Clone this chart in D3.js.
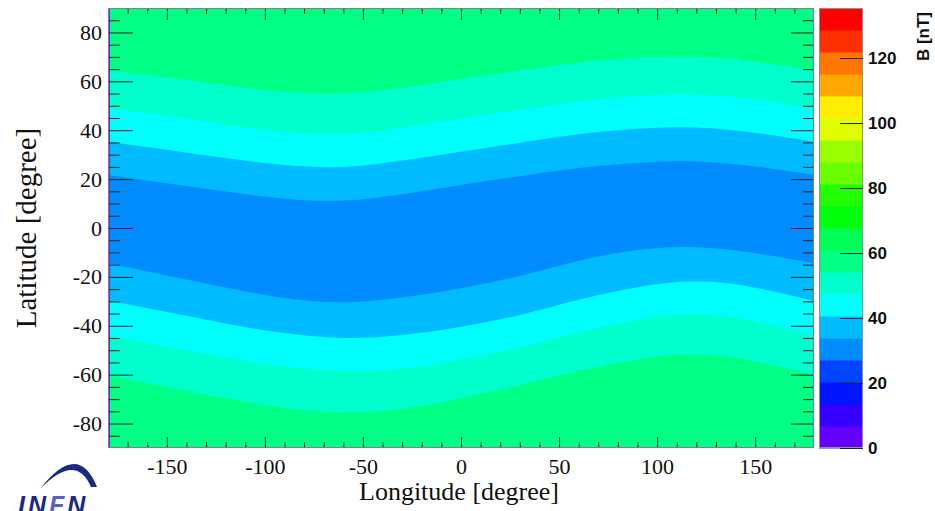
<!DOCTYPE html>
<html>
<head>
<meta charset="utf-8">
<script src="https://cdn.jsdelivr.net/npm/d3@7"></script>
<style>
  body { margin: 0; background: #fff; }
  svg { display: block; }
</style>
</head>
<body>
<div id="chart"></div>
<script>
// contour levels of B [nT] (20 equal bands, ROOT style)
const levels = [0, 6.77, 13.54, 20.31, 27.08, 33.85, 40.62, 47.39, 54.16, 60.93, 67.7,
                74.47, 81.24, 88.01, 94.78, 101.55, 108.32, 115.09, 121.86, 128.63, 135.4];
const paletteColors = ["#6300ff", "#3300ff", "#0014ff", "#0044ff", "#008bff", "#00bbff",
                       "#00fffc", "#00ffcc", "#00ff85", "#00ff55", "#00ff0e", "#22ff00",
                       "#69ff00", "#99ff00", "#e0ff00", "#ffee00", "#ffa700", "#ff7700",
                       "#ff3000", "#ff0000"];

// contour lines: latitude of each iso-B line per longitude
const lonGrid = [-180, -150, -120, -90, -60, -30, 0, 30, 60, 90, 120, 150, 180];
const lat54N = [64.5, 61.6, 58.4, 55.7, 55.0, 57.4, 61.0, 64.4, 67.6, 69.6, 70.1, 68.0, 64.5];
const lat47N = [49.0, 45.9, 42.3, 39.3, 38.4, 41.0, 44.8, 48.4, 51.8, 54.0, 54.6, 52.5, 49.0];
const lat41N = [35.3, 32.0, 28.6, 25.8, 25.0, 27.6, 31.2, 34.9, 38.4, 40.6, 41.1, 38.9, 35.3];
const lat34N = [21.7, 18.3, 14.9, 12.0, 11.2, 13.8, 17.6, 21.2, 24.5, 26.6, 27.2, 25.2, 21.7];
const lat34S = [-14.4, -19.4, -24.3, -28.6, -30.4, -28.4, -24.6, -19.6, -13.4, -9.0, -7.9, -10.3, -14.4];
const lat41S = [-29.8, -34.4, -39.1, -43.0, -45.0, -43.8, -40.4, -35.6, -29.4, -24.2, -21.8, -24.4, -29.8];
const lat47S = [-44.0, -48.6, -52.9, -56.6, -58.6, -57.6, -53.9, -48.8, -42.8, -37.6, -35.2, -38.2, -44.0];
const lat54S = [-60.2, -65.0, -69.8, -73.6, -75.4, -74.0, -69.6, -64.2, -58.6, -54.0, -51.8, -54.6, -60.2];

const lonMajor = [-150, -100, -50, 0, 50, 100, 150];
const latMajor = [-80, -60, -40, -20, 0, 20, 40, 60, 80];
const bTicks = [0, 20, 40, 60, 80, 100, 120];

const W = 935, H = 511;
const plot = {left: 108, right: 814, top: 8, bottom: 448};
const pal = {left: 819, right: 863};

const svg = d3.select("#chart").append("svg")
    .attr("width", W)
    .attr("height", H);

const x = d3.scaleLinear().domain([-180, 180]).range([plot.left, plot.right]);
const y = d3.scaleLinear().domain([-90, 90]).range([plot.bottom, plot.top]);
const z = d3.scaleLinear().domain([levels[0], levels[levels.length - 1]]).range([plot.bottom, plot.top]);

// outermost band (polar caps)
svg.append("rect")
    .attr("x", plot.left).attr("y", plot.top)
    .attr("width", plot.right - plot.left).attr("height", plot.bottom - plot.top)
    .attr("fill", paletteColors[8]);

const contours = [
    {lvl: 8, north: lat54N, south: lat54S},
    {lvl: 7, north: lat47N, south: lat47S},
    {lvl: 6, north: lat41N, south: lat41S},
    {lvl: 5, north: lat34N, south: lat34S}
];

const area = d3.area()
    .x((d, i) => x(lonGrid[i]))
    .curve(d3.curveNatural);

contours.forEach(c => {
    svg.append("path")
        .datum(lonGrid)
        .attr("d", area.y0((d, i) => y(c.south[i])).y1((d, i) => y(c.north[i])))
        .attr("fill", paletteColors[c.lvl - 1]);
});

// thin bluish edge at -180
svg.append("rect")
    .attr("x", plot.left).attr("y", plot.top)
    .attr("width", 2).attr("height", plot.bottom - plot.top)
    .attr("fill", "#4a3cf5");

// axes (ticks inside the frame)
function styleAxis(g) {
    g.select(".domain").remove();
    g.selectAll(".tick line").attr("stroke", "#222").attr("stroke-width", 1);
    g.selectAll("text")
        .style("font-family", "'Liberation Serif', 'Times New Roman', serif")
        .style("font-size", "22px")
        .attr("fill", "#111");
}

const lonMinor = d3.range(-170, 180, 10).filter(v => !lonMajor.includes(v));
const latMinor = d3.range(-85, 90, 5).filter(v => !latMajor.includes(v));

svg.append("g").attr("transform", `translate(0,${plot.bottom})`)
    .call(d3.axisBottom(x).tickValues(lonMinor).tickSize(-6).tickFormat(""))
    .call(styleAxis);
svg.append("g").attr("transform", `translate(0,${plot.bottom})`)
    .call(d3.axisBottom(x).tickValues(lonMajor).tickSize(-11).tickPadding(10))
    .call(styleAxis)
    .selectAll("text").text(d => String(d));
svg.append("g").attr("transform", `translate(0,${plot.top})`)
    .call(d3.axisTop(x).tickValues(lonMinor).tickSize(-6).tickFormat(""))
    .call(styleAxis);
svg.append("g").attr("transform", `translate(0,${plot.top})`)
    .call(d3.axisTop(x).tickValues(lonMajor).tickSize(-12).tickFormat(""))
    .call(styleAxis);

svg.append("g").attr("transform", `translate(${plot.left},0)`)
    .call(d3.axisLeft(y).tickValues(latMinor).tickSize(-12).tickFormat(""))
    .call(styleAxis);
svg.append("g").attr("transform", `translate(${plot.left},0)`)
    .call(d3.axisLeft(y).tickValues(latMajor).tickSize(-25).tickPadding(6))
    .call(styleAxis)
    .selectAll("text").text(d => String(d));
svg.append("g").attr("transform", `translate(${plot.right},0)`)
    .call(d3.axisRight(y).tickValues(latMinor).tickSize(-11).tickFormat(""))
    .call(styleAxis);
svg.append("g").attr("transform", `translate(${plot.right},0)`)
    .call(d3.axisRight(y).tickValues(latMajor).tickSize(-23).tickFormat(""))
    .call(styleAxis);

// frame
svg.append("rect")
    .attr("x", plot.left + 0.5).attr("y", plot.top + 0.5)
    .attr("width", plot.right - plot.left - 1).attr("height", plot.bottom - plot.top - 1)
    .attr("fill", "none").attr("stroke", "#808080");

// axis titles
svg.append("text")
    .attr("x", (plot.left + plot.right) / 2 - 2).attr("y", 500)
    .attr("text-anchor", "middle")
    .style("font-family", "'Liberation Serif', 'Times New Roman', serif")
    .style("font-size", "26px")
    .attr("fill", "#111")
    .text("Longitude [degree]");

svg.append("text")
    .attr("transform", `translate(36,${(plot.top + plot.bottom) / 2}) rotate(-90)`)
    .attr("text-anchor", "middle")
    .style("font-family", "'Liberation Serif', 'Times New Roman', serif")
    .style("font-size", "29px")
    .attr("fill", "#111")
    .text("Latitude [degree]");

// colour palette
svg.append("g").selectAll("rect")
    .data(paletteColors)
    .join("rect")
    .attr("x", pal.left)
    .attr("y", (d, i) => z(levels[i + 1]))
    .attr("width", pal.right - pal.left)
    .attr("height", (d, i) => z(levels[i]) - z(levels[i + 1]) + 0.5)
    .attr("fill", d => d);

svg.append("rect")
    .attr("x", pal.left + 0.5).attr("y", plot.top + 0.5)
    .attr("width", pal.right - pal.left - 1).attr("height", plot.bottom - plot.top - 1)
    .attr("fill", "none").attr("stroke", "#909090");

const zAxis = svg.append("g").attr("transform", `translate(${pal.right},0)`)
    .call(d3.axisRight(z).tickValues(bTicks).tickSize(-23).tickPadding(5));
zAxis.select(".domain").remove();
zAxis.selectAll(".tick line").attr("stroke", "#222");
zAxis.selectAll("text")
    .style("font-family", "'Liberation Sans', Arial, sans-serif")
    .style("font-size", "17px")
    .style("font-weight", "bold")
    .attr("fill", "#111");

svg.append("text")
    .attr("transform", `translate(929,12) rotate(-90)`)
    .attr("text-anchor", "end")
    .style("font-family", "'Liberation Sans', Arial, sans-serif")
    .style("font-size", "17px")
    .style("font-weight", "bold")
    .attr("fill", "#111")
    .text("B [nT]");

// INFN logo (cut at the bottom edge, as in the original)
const logo = svg.append("g");
logo.append("path")
    .attr("d", "M40,489 Q78,440 97,487 L91,487 Q76,452 40,489 Z")
    .attr("fill", "#1b2a80");
const logoText = logo.append("text")
    .attr("x", 18).attr("y", 514)
    .style("font-family", "'Liberation Sans', Arial, sans-serif")
    .style("font-size", "25px")
    .style("font-weight", "bold")
    .style("font-style", "italic")
    .style("letter-spacing", "3px")
    .attr("fill", "#1b2a80");
logoText.append("tspan").text("IN");
logoText.append("tspan").attr("fill", "#5563c8").text("F");
logoText.append("tspan").text("N");
</script>
</body>
</html>
